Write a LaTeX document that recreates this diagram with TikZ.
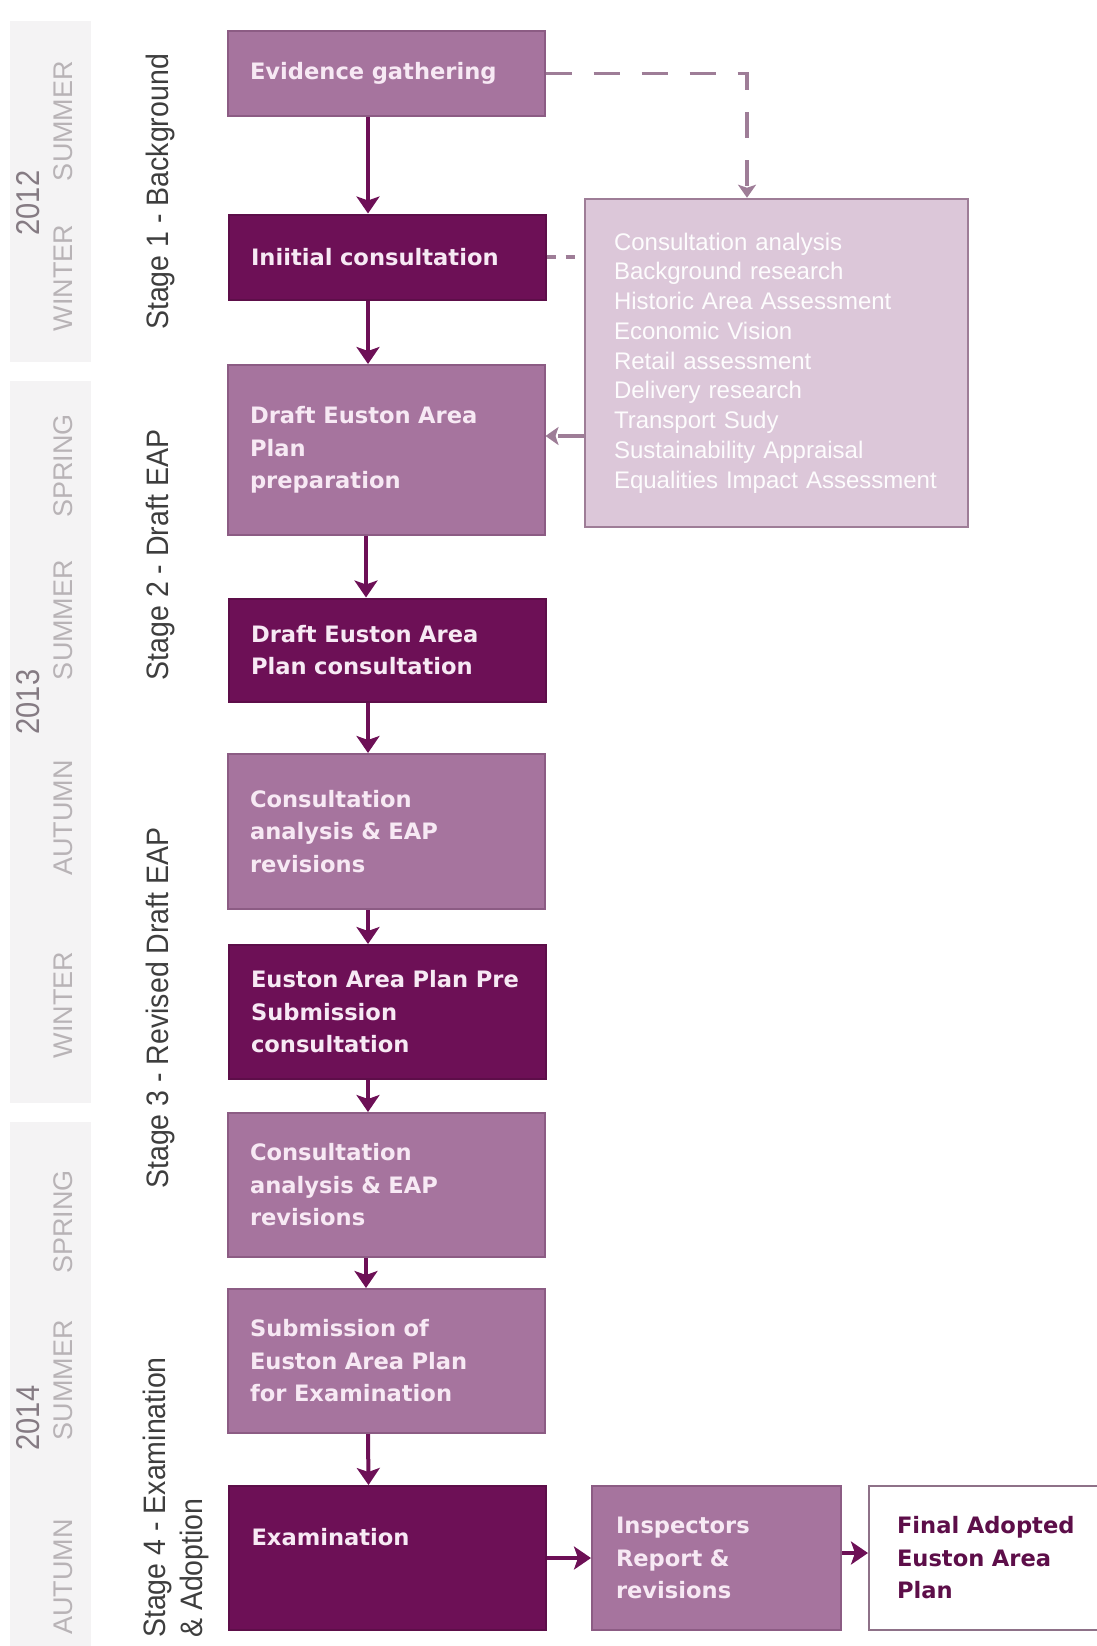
\documentclass[tikz,border=0pt]{standalone}
\usepackage{fontspec}
\setmainfont{Liberation Sans}
\newfontfamily\boxfont{DejaVu Sans}
\newfontfamily\stagefont[FakeStretch=0.92]{Liberation Sans}
\newfontfamily\yearfont[FakeStretch=0.88]{Liberation Sans}
\usetikzlibrary{arrows.meta}

\definecolor{eapmauve}{HTML}{A6749E}
\definecolor{eapplum}{HTML}{6D1056}
\definecolor{eaplilac}{HTML}{DCC7D9}
\definecolor{eapedge}{HTML}{8C5C84}
\definecolor{eapdash}{HTML}{9E7D97}
\definecolor{eaptext}{HTML}{F7E9F4}
\definecolor{bandgray}{HTML}{F4F3F4}
\definecolor{seasongray}{HTML}{B8B3B6}
\definecolor{yeargray}{HTML}{857B83}
\definecolor{stagegray}{HTML}{3E3E3E}

\begin{document}
\begin{tikzpicture}[
    x=1pt, y=-1pt,
    box/.style={rectangle, draw=eapedge, line width=2pt, text=eaptext, align=left,
        text width=272pt, inner xsep=22.5pt, minimum height=85pt,
        font=\boxfont\bfseries\fontsize{22.6}{32.5}\selectfont},
    light/.style={box, fill=eapmauve},
    dark/.style={box, fill=eapplum, draw=eapplum!85!black},
    flow/.style={-{Stealth[length=17pt,width=23pt,inset=4pt]}, line width=4pt, draw=eapplum},
    feed/.style={dash pattern=on 26pt off 22pt, line width=3.5pt, draw=eapdash},
    season/.style={rotate=90, inner sep=0pt, text=seasongray, font=\fontsize{27}{30}\selectfont},
    year/.style={rotate=90, inner sep=0pt, text=yeargray, font=\yearfont\fontsize{33}{36}\selectfont},
    stage/.style={rotate=90, inner sep=0pt, text=stagegray, align=left, font=\stagefont\fontsize{31}{37}\selectfont}
]
\useasboundingbox (0,0) rectangle (1096,1646);

% Time bands
\fill[bandgray] (10,21) rectangle (91,362);
\fill[bandgray] (10,381) rectangle (91,1103);
\fill[bandgray] (10,1122) rectangle (91,1646);

% Years and seasons
\node[year] (y12) at (28,203) {2012};
\node[season] (sum12) at (63,121) {SUMMER};
\node[season] (win12) at (63,278) {WINTER};
\node[year] (y13) at (28,702) {2013};
\node[season] (spr13) at (63,466) {SPRING};
\node[season] (sum13) at (63,620) {SUMMER};
\node[season] (aut13) at (63,818) {AUTUMN};
\node[season] (win13) at (63,1005) {WINTER};
\node[year] (y14) at (28,1418) {2014};
\node[season] (spr14) at (63,1222) {SPRING};
\node[season] (sum14) at (63,1380) {SUMMER};
\node[season] (aut14) at (63,1577) {AUTUMN};

% Stages
\node[stage] (stage1) at (160,192) {Stage 1 - Background};
\node[stage] (stage2) at (160,555) {Stage 2 - Draft EAP};
\node[stage] (stage3) at (160,1008) {Stage 3 - Revised Draft EAP};
\node[stage, anchor=west] (stage4) at (176,1638) {Stage 4 - Examination\\\& Adoption};

% Main column
\node[light] (evidence) at (386,73.5) {Evidence gathering};
\node[dark] (initial) at (387,257) {Iniitial consultation};
\node[light, minimum height=170pt] (prep) at (386,450) {Draft Euston Area\\Plan\\preparation};
\node[dark, minimum height=103pt] (draftcons) at (387,650) {Draft Euston Area\\Plan consultation};
\node[light, minimum height=155pt] (analysis1) at (386,831.5) {Consultation\\analysis \& EAP\\revisions};
\node[dark, minimum height=134pt] (presub) at (387,1012) {Euston Area Plan Pre\\Submission\\consultation};
\node[light, minimum height=144pt] (analysis2) at (386,1185) {Consultation\\analysis \& EAP\\revisions};
\node[light, minimum height=144pt] (submission) at (386,1361) {Submission of\\Euston Area Plan\\for Examination};
\node[dark, minimum height=144pt] (exam) at (387.5,1558) {Examination\\\strut};

% Bottom row
\node[light, minimum height=144pt, text width=201pt, inner xsep=24pt] (inspectors) at (716.5,1558) {Inspectors\\Report \&\\revisions};
\node[box, fill=white, draw=eapdash!90!black, text=eapplum!85!black, minimum height=144pt, text width=190pt, inner xsep=28pt] (final) at (992,1558) {Final Adopted\\Euston Area\\Plan};

% Research box
\node[rectangle, draw=eapdash, line width=2.5pt, fill=eaplilac, align=left, text width=325pt,
    inner xsep=29pt, minimum height=328pt, text=white!94!eaplilac,
    font=\fontsize{24}{29.75}\selectfont] (research) at (776.5,363)
    {Consultation analysis\\Background research\\Historic Area Assessment\\Economic Vision\\Retail assessment\\Delivery research\\Transport Sudy\\Sustainability Appraisal\\Equalities Impact Assessment};

% Arrows
\draw[flow] ([xshift=-18pt]evidence.south) -- ([xshift=-19pt]initial.north);
\draw[flow] ([xshift=-19pt]initial.south) -- ([xshift=-18pt]prep.north);
\draw[flow] ([xshift=-20pt]prep.south) -- ([xshift=-21pt]draftcons.north);
\draw[flow] ([xshift=-19pt]draftcons.south) -- ([xshift=-18pt]analysis1.north);
\draw[flow] ([xshift=-18pt]analysis1.south) -- ([xshift=-19pt]presub.north);
\draw[flow] ([xshift=-19pt]presub.south) -- ([xshift=-18pt]analysis2.north);
\draw[flow] ([xshift=-20pt]analysis2.south) -- ([xshift=-20pt]submission.north);
\draw[flow] ([xshift=-18pt]submission.south) -- ([xshift=-19pt]exam.north);
\draw[flow] (exam.east) -- (inspectors.west);
\draw[flow] ([yshift=5pt]inspectors.east) -- ([yshift=5pt]inspectors.east -| final.west);

% Feedback to and from research
\draw[feed, -{Stealth[length=13pt,width=18pt,inset=3pt]}] (evidence.east) -| ([xshift=-29.5pt]research.north);
\draw[feed, dash pattern=on 9pt off 10pt] (initial.east) -- (initial.east -| research.west);
\draw[feed, -{Stealth[length=13pt,width=18pt,inset=3pt]}] ([yshift=14pt]prep.east -| research.west) -- ([yshift=14pt]prep.east);

\end{tikzpicture}
\end{document}
